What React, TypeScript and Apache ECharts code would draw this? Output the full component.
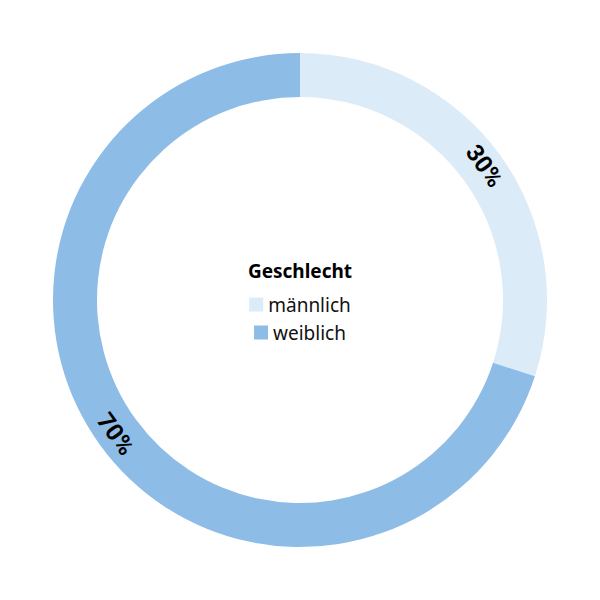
import React, { useEffect, useRef } from "react";
import * as echarts from "echarts";

const categories = ["männlich", "weiblich"];
const values = [30, 70];
const colors = ["#dcebf8", "#8dbde7"];

const App: React.FC = () => {
  const chartRef = useRef<HTMLDivElement>(null);

  useEffect(() => {
    if (!chartRef.current) return;
    const chart = echarts.init(chartRef.current, null, { renderer: "svg" });

    const legendBase = {
      left: "center",
      orient: "horizontal" as const,
      itemWidth: 14,
      itemHeight: 14,
      itemGap: 6,
      icon: "rect",
      textStyle: {
        fontFamily: "Noto Sans",
        fontSize: 19,
        color: "#111",
      },
    };

    chart.setOption({
      animation: false,
      title: {
        text: "Geschlecht",
        left: "center",
        top: 256,
        textStyle: {
          fontFamily: "Noto Sans",
          fontSize: 19,
          fontWeight: "bold",
          color: "#000",
        },
      },
      legend: [
        { ...legendBase, top: 290, data: [categories[0]] },
        { ...legendBase, top: 318, data: [categories[1]] },
      ],
      series: [
        {
          type: "pie",
          center: [300, 300],
          radius: [203, 247],
          startAngle: 90,
          clockwise: true,
          silent: true,
          label: {
            show: true,
            position: "inside",
            rotate: "tangential",
            formatter: "{c}%",
            fontFamily: "Roboto, sans-serif",
            fontSize: 24,
            fontWeight: "bold",
            color: "#000",
          },
          labelLine: { show: false },
          data: categories.map((name, i) => ({
            name,
            value: values[i],
            itemStyle: { color: colors[i] },
          })),
        },
      ],
    });

    return () => {
      chart.dispose();
    };
  }, []);

  return (
    <div
      ref={chartRef}
      style={{ position: "fixed", left: 0, top: 0, width: 600, height: 600, background: "#fff" }}
    />
  );
};

export default App;
